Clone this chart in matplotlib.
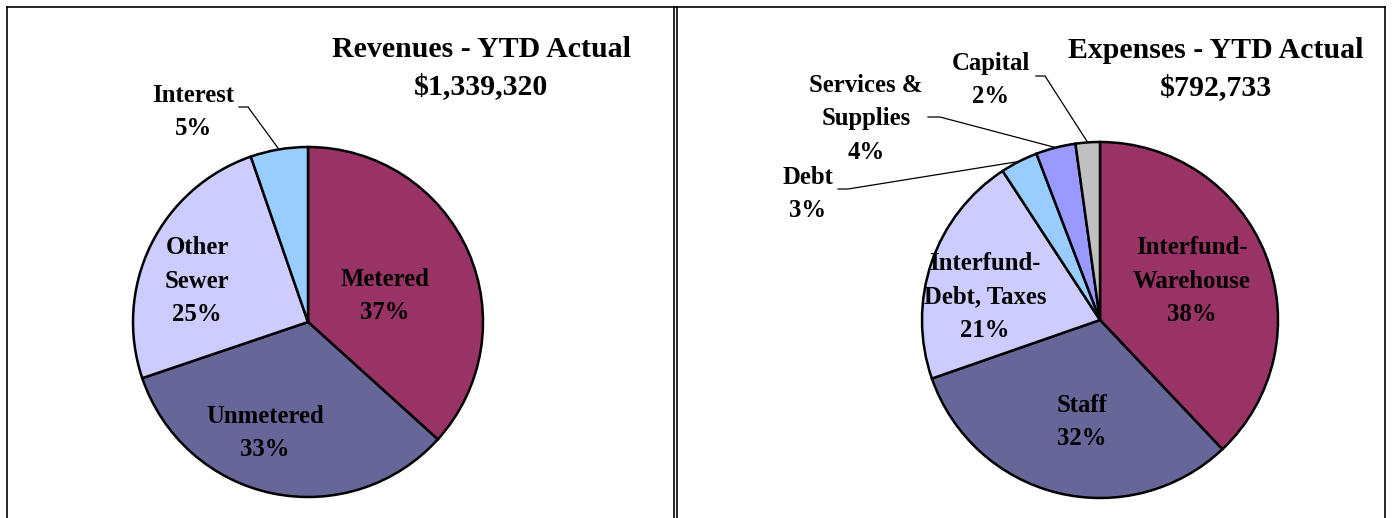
import numpy as np
import matplotlib
matplotlib.use('Agg')
import matplotlib.pyplot as plt
from matplotlib.lines import Line2D

plt.rcParams["font.family"] = "Liberation Serif"
plt.rcParams["font.weight"] = "bold"

# revenue data (percent of total)
rev_labels = ['Metered', 'Unmetered', 'Other\nSewer', 'Interest']
rev_values = [36.7, 33.1, 24.9, 5.3]
rev_pct = ['37%', '33%', '25%', '5%']
rev_colors = ['#993366', '#666699', '#CCCCFF', '#99CCFF']
rev_title = 'Revenues - YTD Actual\n$1,339,320'

# expense data (percent of total)
exp_labels = ['Interfund-\nWarehouse', 'Staff', 'Interfund-\nDebt, Taxes',
              'Debt', 'Services &\nSupplies', 'Capital']
exp_values = [37.9, 31.7, 21.1, 3.4, 3.6, 2.2]
exp_pct = ['38%', '32%', '21%', '3%', '4%', '2%']
exp_colors = ['#993366', '#666699', '#CCCCFF', '#99CCFF', '#9999FF', '#C0C0C0']
exp_title = 'Expenses - YTD Actual\n$792,733'

W, H = 1394, 518
fig = plt.figure(figsize=(W / 100, H / 100), dpi=100)
ax = fig.add_axes([0, 0, 1, 1])
ax.set_xlim(0, W)
ax.set_ylim(0, H)
ax.set_aspect('equal')
ax.axis('off')


def py(y):
    # pixel row (from top) -> data y
    return H - y


# panel borders
for x in [7, 674, 677, 1385]:
    ax.add_line(Line2D([x, x], [py(7), py(518)], color='black', lw=1.2))
ax.add_line(Line2D([7, 1385], [py(7), py(7)], color='black', lw=1.2))


def draw_pie(values, colors, cx, cy, r):
    wedges, _ = ax.pie(values, colors=colors, startangle=90, counterclock=False,
                       center=(cx, py(cy)), radius=r, frame=True,
                       wedgeprops=dict(edgecolor='black', linewidth=1.8))
    return wedges


def leader(w, cx, cy, r, pts):
    # leader from label to the wedge edge at its mid angle
    ang = np.deg2rad((w.theta1 + w.theta2) / 2)
    ex = cx + r * np.cos(ang)
    ey = py(cy) + r * np.sin(ang)
    xs = [p[0] for p in pts] + [ex]
    ys = [py(p[1]) for p in pts] + [ey]
    ax.add_line(Line2D(xs, ys, color='black', lw=0.9))


fs = 17.8
tfs = 21.5
lsp = 1.57
tlsp = 1.48

# left pie
lcx, lcy, lr = 308, 322, 175
rw = draw_pie(rev_values, rev_colors, lcx, lcy, lr)
rev_pos = [(385, 296), (265, 433), (197, 281), (193, 112)]
for lab, pct, (x, y) in zip(rev_labels, rev_pct, rev_pos):
    ax.text(x, py(y), lab + '\n' + pct, ha='center', va='center',
            fontsize=fs, fontweight='bold', linespacing=lsp)
leader(rw[3], lcx, lcy, lr, [(239, 107), (248, 107)])
ax.text(481, py(68), rev_title, ha='center', va='center',
        fontsize=tfs, fontweight='bold', linespacing=tlsp)

# right pie
rcx, rcy, rr = 1100, 320, 178
ew = draw_pie(exp_values, exp_colors, rcx, rcy, rr)
exp_pos = [(1192, 281), (1082, 422), (985, 297), (808, 194), (866, 119), (991, 80)]
for lab, pct, (x, y) in zip(exp_labels, exp_pct, exp_pos):
    ax.text(x, py(y), lab + '\n' + pct, ha='center', va='center',
            fontsize=fs, fontweight='bold', linespacing=lsp)
leader(ew[3], rcx, rcy, rr, [(838, 189), (848, 189)])
leader(ew[4], rcx, rcy, rr, [(928, 117), (940, 117)])
leader(ew[5], rcx, rcy, rr, [(1036, 76), (1045, 76)])
ax.text(1216, py(69), exp_title, ha='center', va='center',
        fontsize=tfs, fontweight='bold', linespacing=tlsp)

ax.set_xlim(0, W)
ax.set_ylim(0, H)
fig.savefig('out.png', dpi=100)
